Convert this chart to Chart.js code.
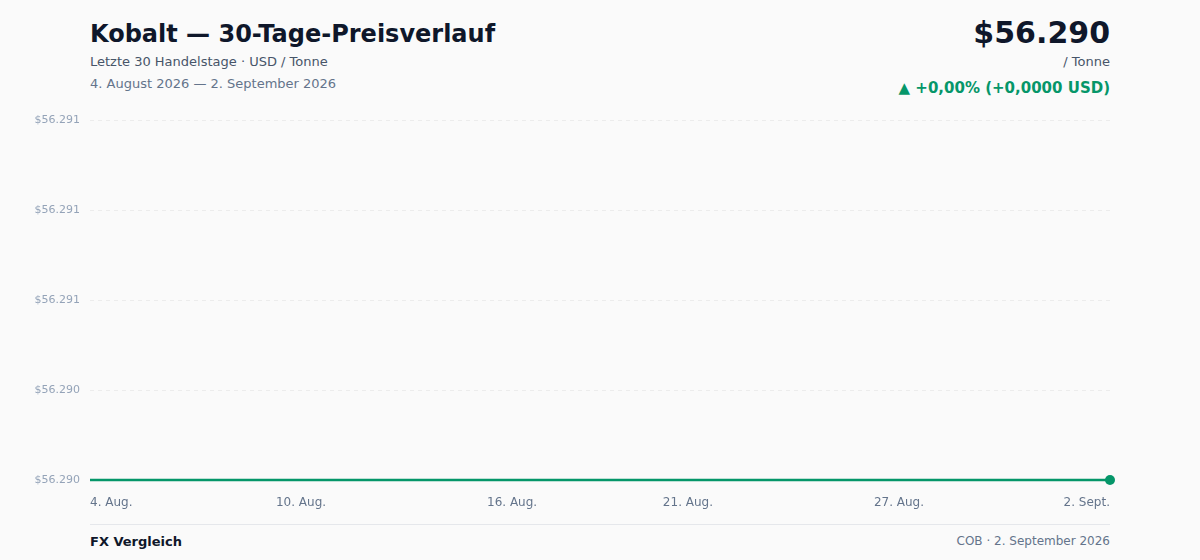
<!DOCTYPE html>
<html lang="de">
<head>
<meta charset="utf-8">
<title>Kobalt — 30-Tage-Preisverlauf</title>
<script src="https://cdn.jsdelivr.net/npm/chart.js@4.4.1/dist/chart.umd.min.js"></script>
<style>
  html, body { margin: 0; padding: 0; background: #fafafa; }
  body { width: 1200px; height: 560px; position: relative; overflow: hidden;
         font-family: "DejaVu Sans", sans-serif; }
  .titel { position: absolute; left: 90px; top: 20px; font-size: 24px; font-weight: bold; color: #0f172a; }
  .unter { position: absolute; left: 90px; top: 54px; font-size: 13px; color: #475569; }
  .datum { position: absolute; left: 90px; top: 76px; font-size: 13px; color: #64748b; }
  .preis { position: absolute; right: 90px; top: 15px; font-size: 30px; font-weight: bold; color: #0f172a; }
  .einheit { position: absolute; right: 90px; top: 54px; font-size: 13px; color: #475569; }
  .delta { position: absolute; right: 90px; top: 79px; font-size: 15px; font-weight: bold; color: #059669; }
  #wrap { position: absolute; left: 0; top: 104px; width: 1200px; height: 406px; }
  .linie { position: absolute; left: 90px; width: 1020px; top: 524px; height: 1px; background: #e5e7eb; }
  .quelle { position: absolute; left: 90px; top: 534px; font-size: 13px; font-weight: bold; color: #0f172a; }
  .stand { position: absolute; right: 90px; top: 534px; font-size: 12px; color: #64748b; }
</style>
</head>
<body>
<div class="titel">Kobalt — 30-Tage-Preisverlauf</div>
<div class="unter">Letzte 30 Handelstage · USD / Tonne</div>
<div class="datum">4. August 2026 — 2. September 2026</div>
<div class="preis">$56.290</div>
<div class="einheit">/ Tonne</div>
<div class="delta">▲ +0,00% (+0,0000 USD)</div>
<div id="wrap"><canvas id="chart"></canvas></div>
<div class="linie"></div>
<div class="quelle">FX Vergleich</div>
<div class="stand">COB · 2. September 2026</div>

<script>
// === DATEN ===
const tage = [
  "4. Aug.", "5. Aug.", "6. Aug.", "7. Aug.", "8. Aug.", "9. Aug.", "10. Aug.",
  "11. Aug.", "12. Aug.", "13. Aug.", "14. Aug.", "15. Aug.", "16. Aug.", "17. Aug.",
  "18. Aug.", "19. Aug.", "20. Aug.", "21. Aug.", "22. Aug.", "23. Aug.", "24. Aug.",
  "25. Aug.", "26. Aug.", "27. Aug.", "28. Aug.", "29. Aug.", "30. Aug.", "31. Aug.",
  "1. Sept.", "2. Sept."
];
const preise = [
  56290, 56290, 56290, 56290, 56290, 56290, 56290, 56290, 56290, 56290,
  56290, 56290, 56290, 56290, 56290, 56290, 56290, 56290, 56290, 56290,
  56290, 56290, 56290, 56290, 56290, 56290, 56290, 56290, 56290, 56290
];
const xTicks = ["4. Aug.", "10. Aug.", "16. Aug.", "21. Aug.", "27. Aug.", "2. Sept."];
const yMin = 56290, yMax = 56291, yStep = 0.25;

const gruen = "#059669";
const fmt = new Intl.NumberFormat("de-DE", { maximumFractionDigits: 0 });

new Chart(document.getElementById("chart"), {
  type: "line",
  data: {
    labels: tage,
    datasets: [{
      data: preise,
      borderColor: gruen,
      borderWidth: 2.5,
      fill: false,
      tension: 0,
      clip: false,
      pointRadius: preise.map((p, i) => i === preise.length - 1 ? 5 : 0),
      pointBackgroundColor: gruen,
      pointBorderWidth: 0
    }]
  },
  options: {
    responsive: true,
    maintainAspectRatio: false,
    animation: false,
    layout: { padding: { top: 0, right: 90, bottom: 0, left: 0 } },
    plugins: { legend: { display: false }, tooltip: { enabled: false } },
    scales: {
      x: {
        grid: { display: false, drawTicks: false },
        border: { display: false },
        afterFit: s => { s.height = 30; },
        ticks: {
          autoSkip: false,
          maxRotation: 0,
          align: "inner",
          padding: 16,
          color: "#64748b",
          font: { family: "DejaVu Sans", size: 12 },
          callback: function (v, i) {
            const l = this.getLabelForValue(v);
            return xTicks.includes(l) ? l : "";
          }
        }
      },
      y: {
        min: yMin,
        max: yMax,
        afterFit: s => { s.width = 90; },
        grid: { color: "#ececec", drawTicks: false, lineWidth: 1 },
        border: { display: false, dash: [4, 4] },
        ticks: {
          stepSize: yStep,
          padding: 10,
          color: "#94a3b8",
          font: { family: "DejaVu Sans", size: 11 },
          callback: v => "$" + fmt.format(v)
        }
      }
    }
  }
});
</script>
</body>
</html>
